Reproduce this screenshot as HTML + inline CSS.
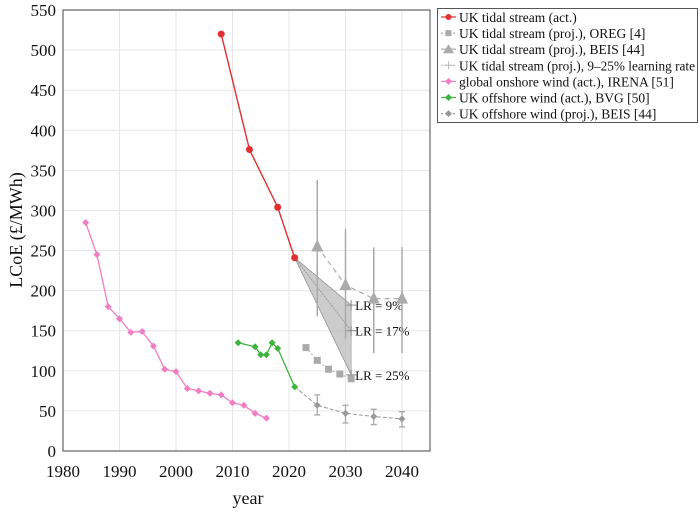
<!DOCTYPE html>
<html><head><meta charset="utf-8"><style>
body{margin:0;background:#fff;width:700px;height:508px;overflow:hidden}
text{font-family:"Liberation Serif",serif;fill:#111}
</style></head><body>
<svg id="s" width="700" height="508" xmlns="http://www.w3.org/2000/svg"></svg>
<script>
const X=y=>63+(y-1980)*5.65, Y=v=>451-v*0.8018;
let h='';
for(let yr=1980;yr<=2040;yr+=10){h+=`<line x1="${X(yr)}" y1="10" x2="${X(yr)}" y2="451" stroke="#e6e6e6"/>`;
 h+=`<text x="${X(yr)}" y="477" font-size="17" text-anchor="middle">${yr}</text>`;}
for(let v=0;v<=550;v+=50){h+=`<line x1="63" y1="${Y(v)}" x2="430" y2="${Y(v)}" stroke="#e6e6e6"/>`;
 h+=`<text x="56" y="${Y(v)+6}" font-size="17" text-anchor="end">${v}</text>`;}
h+=`<rect x="63" y="10" width="367" height="441" fill="none" stroke="#444"/>`;
h+=`<text x="248" y="504" font-size="18" text-anchor="middle">year</text>`;
h+=`<text transform="translate(22,230) rotate(-90)" font-size="18" text-anchor="middle">LCoE (£/MWh)</text>`;
const pts=a=>a.map(p=>X(p[0])+','+Y(p[1])).join(' ');
h+=`<polygon points="${pts([[2021,241],[2031,182],[2031,95]])}" fill="#bbb" fill-opacity=".75" stroke="#999" stroke-width=".6"/>`;
[[182,'9'],[150,'17'],[95,'25']].forEach(([v,l])=>{h+=`<line x1="${X(2021)}" y1="${Y(241)}" x2="${X(2031)}" y2="${Y(v)}" stroke="#888" stroke-width=".7" stroke-dasharray="2,1"/>`;
 h+=`<path d="M${X(2031)-5} ${Y(v)}h10M${X(2031)} ${Y(v)-5}v10" stroke="#888"/>`;
 h+=`<text x="${X(2031)+4}" y="${Y(v)+5}" font-size="13">LR = ${l}%</text>`;});
const tri=[[2025,255,168,338],[2030,207,140,277],[2035,190,122,254],[2040,190,122,254]];
tri.forEach(t=>h+=`<line x1="${X(t[0])}" y1="${Y(t[2])}" x2="${X(t[0])}" y2="${Y(t[3])}" stroke="#aaa" stroke-width="1.5"/>`);
h+=`<polyline points="${pts(tri)}" fill="none" stroke="#aaa" stroke-width="1.2" stroke-dasharray="5,4"/>`;
tri.forEach(t=>{const x=X(t[0]),y=Y(t[1]);h+=`<polygon points="${x-6},${y+5} ${x+6},${y+5} ${x},${y-7}" fill="#aaa"/>`;});
const sq=[[2023,129],[2025,113],[2027,102],[2029,96],[2031,90]];
h+=`<polyline points="${pts(sq)}" fill="none" stroke="#aaa" stroke-dasharray="2,2"/>`;
sq.forEach(p=>h+=`<rect x="${X(p[0])-3.5}" y="${Y(p[1])-3.5}" width="7" height="7" fill="#aaa"/>`);
const op=[[2021,80],[2025,57,45,70],[2030,47,35,57],[2035,43,33,52],[2040,40,30,49]];
op.forEach(t=>{if(t[2])h+=`<path d="M${X(t[0])} ${Y(t[2])}V${Y(t[3])}M${X(t[0])-3} ${Y(t[2])}h6M${X(t[0])-3} ${Y(t[3])}h6" stroke="#aaa" stroke-width="1.3"/>`;});
h+=`<polyline points="${pts(op)}" fill="none" stroke="#999" stroke-dasharray="4,2"/>`;
const dia=(p,c,r)=>`<polygon points="${X(p[0])},${Y(p[1])-r} ${X(p[0])+r},${Y(p[1])} ${X(p[0])},${Y(p[1])+r} ${X(p[0])-r},${Y(p[1])}" fill="${c}"/>`;
op.slice(1).forEach(p=>h+=dia(p,'#999',3.5));
const pk=[[1984,285],[1986,245],[1988,180],[1990,165],[1992,148],[1994,149],[1996,131],[1998,102],[2000,99],[2002,78],[2004,75],[2006,72],[2008,70],[2010,60],[2012,57],[2014,47],[2016,41]];
h+=`<polyline points="${pts(pk)}" fill="none" stroke="#f07ec0" stroke-width="1.3"/>`;pk.forEach(p=>h+=dia(p,'#f07ec0',3.5));
const gr=[[2011,135],[2014,130],[2015,120],[2016,120],[2017,135],[2018,128],[2021,80]];
h+=`<polyline points="${pts(gr)}" fill="none" stroke="#3db43d" stroke-width="1.3"/>`;gr.forEach(p=>h+=dia(p,'#3db43d',3.5));
const rd=[[2008,520],[2013,376],[2018,304],[2021,241]];
h+=`<polyline points="${pts(rd)}" fill="none" stroke="#e03030" stroke-width="1.4"/>`;rd.forEach(p=>h+=`<circle cx="${X(p[0])}" cy="${Y(p[1])}" r="3.5" fill="#e03030"/>`);
h+=`<rect x="437.5" y="8.5" width="260" height="114" fill="#fff" stroke="#555"/>`;
const L=[['#e03030','UK tidal stream (act.)','c',0],['#aaa','UK tidal stream (proj.), OREG [4]','s',1],['#aaa','UK tidal stream (proj.), BEIS [44]','t',0],['#bbb','UK tidal stream (proj.), 9–25% learning rate','p',1],['#f07ec0','global onshore wind (act.), IRENA [51]','d',0],['#3db43d','UK offshore wind (act.), BVG [50]','d',0],['#999','UK offshore wind (proj.), BEIS [44]','d',1]];
L.forEach((l,i)=>{const y=17+i*16.1,c=l[0];
 h+=`<line x1="441" y1="${y}" x2="456" y2="${y}" stroke="${c}" stroke-width="1.2" ${l[3]?'stroke-dasharray="2,2"':''}/>`;
 if(l[2]=='c')h+=`<circle cx="448.5" cy="${y}" r="3" fill="${c}"/>`;
 if(l[2]=='s')h+=`<rect x="445.5" y="${y-3}" width="6" height="6" fill="${c}"/>`;
 if(l[2]=='t')h+=`<polygon points="443,${y+4} 454,${y+4} 448.5,${y-5}" fill="${c}"/>`;
 if(l[2]=='p')h+=`<path d="M444 ${y}h9M448.5 ${y-4}v8" stroke="${c}"/>`;
 if(l[2]=='d')h+=`<polygon points="448.5,${y-3.5} 452,${y} 448.5,${y+3.5} 445,${y}" fill="${c}"/>`;
 h+=`<text x="459" y="${y+5}" font-size="13.5" ${i==3?'textLength="236" lengthAdjust="spacingAndGlyphs"':''}>${l[1]}</text>`;});
document.getElementById('s').innerHTML=h;
</script>
</body></html>
